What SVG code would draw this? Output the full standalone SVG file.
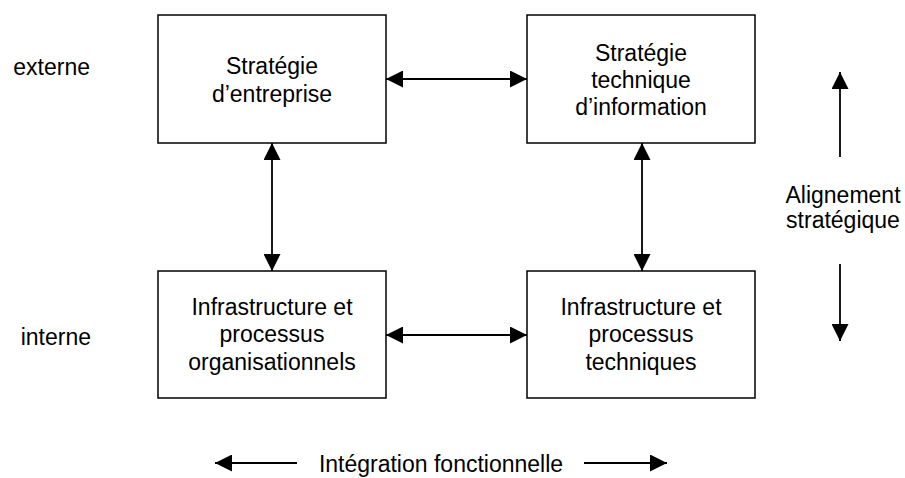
<svg xmlns="http://www.w3.org/2000/svg" width="905" height="478" viewBox="0 0 905 478">
<style>
text{font-family:"Liberation Sans",Arial,sans-serif;font-size:23px;fill:#000}
.c{text-anchor:middle}
.box{fill:#fff;stroke:#000;stroke-width:1.5}
.ln{stroke:#000;stroke-width:1.8;fill:none}
</style>
<defs>
<marker id="ah" viewBox="0 0 10 10" refX="10" refY="5" markerWidth="17" markerHeight="17" markerUnits="userSpaceOnUse" orient="auto-start-reverse">
<path d="M0,0 L10,5 L0,10 Z" fill="#000"/>
</marker>
</defs>
<rect width="905" height="478" fill="#fff"/>
<g id="n1"><rect class="box" x="158" y="15" width="228" height="128"/>
<text class="c" x="272" y="74">Stratégie</text><text class="c" x="272" y="102">d’entreprise</text></g>
<g id="n2"><rect class="box" x="527" y="15" width="228" height="128"/>
<text class="c" x="641" y="61">Stratégie</text><text class="c" x="641" y="88">technique</text><text class="c" x="641" y="115">d’information</text></g>
<g id="n3"><rect class="box" x="158" y="271" width="228" height="127"/>
<text class="c" x="272" y="315">Infrastructure et</text><text class="c" x="272" y="342">processus</text><text class="c" x="272" y="370">organisationnels</text></g>
<g id="n4"><rect class="box" x="527" y="271" width="228" height="127"/>
<text class="c" x="641" y="315">Infrastructure et</text><text class="c" x="641" y="342">processus</text><text class="c" x="641" y="370">techniques</text></g>
<g id="labels">
<text x="90" y="75" text-anchor="end">externe</text>
<text x="91" y="345" text-anchor="end">interne</text>
<text class="c" x="843" y="203">Alignement</text>
<text class="c" x="843" y="228">stratégique</text>
<text class="c" x="441" y="472">Intégration fonctionnelle</text>
</g>
<g id="connectors">
<line class="ln" x1="386" y1="79" x2="527" y2="79" marker-start="url(#ah)" marker-end="url(#ah)"/>
<line class="ln" x1="386" y1="335" x2="527" y2="335" marker-start="url(#ah)" marker-end="url(#ah)"/>
<line class="ln" x1="272" y1="143" x2="272" y2="271" marker-start="url(#ah)" marker-end="url(#ah)"/>
<line class="ln" x1="642" y1="143" x2="642" y2="271" marker-start="url(#ah)" marker-end="url(#ah)"/>
<line class="ln" x1="840" y1="157" x2="840" y2="72" marker-end="url(#ah)"/>
<line class="ln" x1="840" y1="264" x2="840" y2="341" marker-end="url(#ah)"/>
<line class="ln" x1="297" y1="463" x2="215" y2="463" marker-end="url(#ah)"/>
<line class="ln" x1="584" y1="463" x2="667" y2="463" marker-end="url(#ah)"/>
</g>
</svg>
